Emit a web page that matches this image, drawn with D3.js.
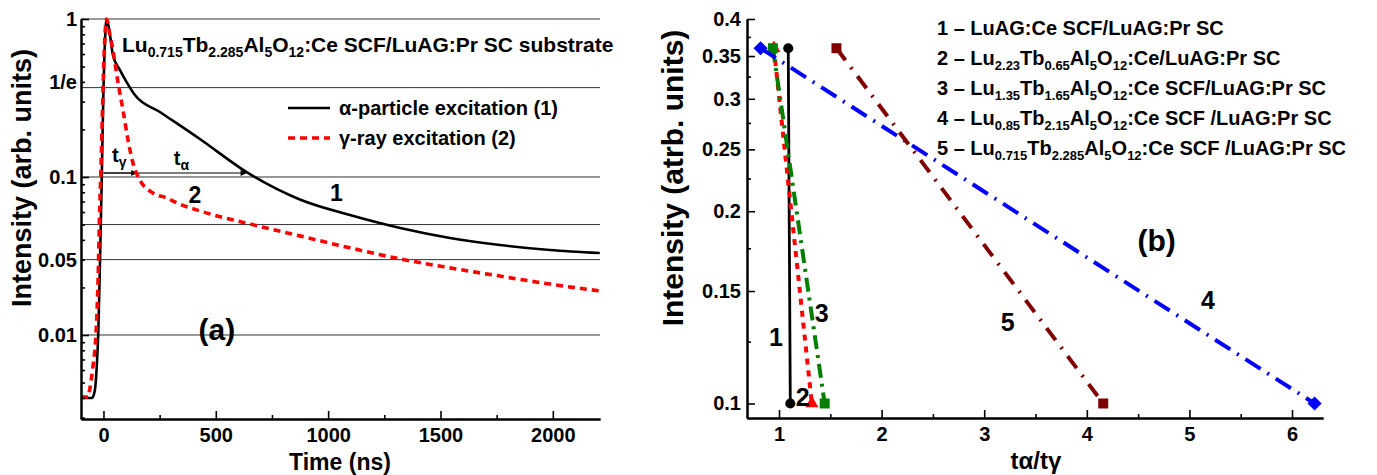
<!DOCTYPE html>
<html><head><meta charset="utf-8">
<script src="https://cdn.jsdelivr.net/npm/d3@7"></script>
<style>
body{margin:0;background:#fff}
svg text{font-family:"Liberation Sans",Arial,Helvetica,sans-serif;font-weight:bold;fill:#000}
</style>
</head><body>
<svg id="c" width="1377" height="475"></svg>
<script>
// ================= DATA =================
// Panel (a): decay curves
const alphaTime = [-100,-51,-38,-30,-23,-16,-8,-1,7,14,29,42,73,105,140,251,429,639,874,1097,1321,1542,1764,1987,2209];
const alphaIntensity = [0.00399,0.00399,0.00449,0.00629,0.0104,0.0269,0.0916,0.307,0.736,1,0.792,0.592,0.476,0.394,0.330,0.258,0.174,0.107,0.0720,0.0574,0.0475,0.0411,0.0371,0.0345,0.0330];
const gammaTime = [-100,-69,-60,-47,-33,-24,-18,-11,-7,2,14,29,42,65,87,109,131,162,220,283,327,429,652,874,1097,1321,1542,1764,1987,2209];
const gammaIntensity = [0.00405,0.00405,0.00464,0.00629,0.0104,0.0223,0.0535,0.116,0.19,0.55,1,0.792,0.637,0.394,0.265,0.172,0.123,0.0957,0.0792,0.0736,0.0685,0.061,0.0504,0.0424,0.0356,0.0303,0.0266,0.0236,0.021,0.019];
const xTicksA = [0,500,1000,1500,2000];
const xMinorA = [250,750,1250,1750];
const yMajorA = [1,0.1,0.01];
const yMinorA = [0.003,0.004,0.005,0.006,0.007,0.008,0.009,0.02,0.03,0.04,0.05,0.06,0.07,0.08,0.09,0.2,0.3,0.4,0.5,0.6,0.7,0.8,0.9];
const yLabelValuesA = [1,0.4,0.1,0.03,0.01];
const yLabelTextsA = ["1","1/e","0.1","0.05","0.01"];
const gridValuesA = [1/Math.E,0.1,0.05,0.03,0.01];
const arrowLevel = 0.106;
const tGammaEnd = 150;
const tAlphaEnd = 637;
const seriesNamesA = ["α-particle excitation (1)","γ-ray excitation (2)"];

// Panel (b): tα/tγ ratios
const ratioIntensity = [0.36, 0.1];
const ratioStart = [1.09, 0.95, 0.94, 0.82, 1.56];
const ratioEnd   = [1.11, 1.32, 1.445, 6.22, 4.16];
const legendB = [
  "1 – LuAG:Ce SCF/LuAG:Pr SC",
  "2 – Lu_{2.23}Tb_{0.65}Al_{5}O_{12}:Ce/LuAG:Pr SC",
  "3 – Lu_{1.35}Tb_{1.65}Al_{5}O_{12}:Ce SCF/LuAG:Pr SC",
  "4 – Lu_{0.85}Tb_{2.15}Al_{5}O_{12}:Ce SCF /LuAG:Pr SC",
  "5 – Lu_{0.715}Tb_{2.285}Al_{5}O_{12}:Ce SCF /LuAG:Pr SC"
];
const xTicksB = [1,2,3,4,5,6];
const xMinorB = [1.5,2.5,3.5,4.5,5.5];
const yTicksB = [0.1,0.15,0.2,0.25,0.3,0.35,0.4];
const yMinorB = [0.125,0.175,0.225,0.275,0.325,0.375];
const labelsB = ["1","2","3","4","5"];
const labelBx = [0.97,1.23,1.416,5.18,3.23];
const labelBy = [0.127,0.1024,0.1386,0.145,0.134];

// ================= STYLE =================
const colorsB = ["#000000","#ff0000","#008000","#0000ff","#800000"];
const dashB = [null,"6,6","14,6,3,6","18,8,2,8","15,9,2,9"];
const widthB = [2.8,4,4,4,4];
const symB = [d3.symbolCircle,d3.symbolTriangle,d3.symbolSquare,d3.symbolSquare,d3.symbolSquare];
const symSize = [80,75,100,100,100];
const symRot = [0,0,0,45,0];

const svg = d3.select("#c");

function rich(sel, str, size, subSize){
  const parts = str.split(/(_\{[^}]*\})/).filter(s=>s.length);
  let shifted = false;
  parts.forEach(p=>{
    if(p.startsWith("_{")){
      sel.append("tspan").attr("font-size",subSize).attr("dy", shifted?0:5).text(p.slice(2,-1));
      shifted = true;
    } else {
      sel.append("tspan").attr("font-size",size).attr("dy", shifted?-5:0).text(p);
      shifted = false;
    }
  });
}

// ================= PANEL A =================
const xA = d3.scaleLinear().domain([-100,2210]).range([81,600]);
const yA = d3.scaleLog().domain([0.00294,1]).range([419,19]);
const gA = svg.append("g");

gA.append("line").attr("x1",xA(-100)).attr("x2",xA(2210)).attr("y1",yA(1)).attr("y2",yA(1))
  .attr("stroke","#9a9a9a").attr("stroke-width",2);
gA.selectAll("line.grid").data(gridValuesA).enter().append("line").attr("class","grid")
  .attr("x1",xA(-100)).attr("x2",xA(2210)).attr("y1",d=>yA(d)).attr("y2",d=>yA(d))
  .attr("stroke","#333").attr("stroke-width",1);

const defs = svg.append("defs");
defs.append("marker").attr("id","arr").attr("viewBox","0 0 10 10").attr("refX",10).attr("refY",5)
  .attr("markerWidth",9).attr("markerHeight",6).attr("markerUnits","userSpaceOnUse").attr("orient","auto")
  .append("path").attr("d","M0,0 L10,5 L0,10 z").attr("fill","#000");
[tAlphaEnd,tGammaEnd].forEach(t=>{
  gA.append("line").attr("x1",xA(0)).attr("x2",xA(t)).attr("y1",yA(arrowLevel)).attr("y2",yA(arrowLevel))
    .attr("stroke","#000").attr("stroke-width",1).attr("marker-end","url(#arr)");
});

const lineA = d3.line().x(d=>xA(d[0])).y(d=>yA(d[1])).curve(d3.curveMonotoneX);
gA.append("path").datum(alphaTime.map((t,i)=>[t,alphaIntensity[i]]))
  .attr("d",lineA).attr("fill","none").attr("stroke","#000").attr("stroke-width",2.6);
gA.append("path").datum(gammaTime.map((t,i)=>[t,gammaIntensity[i]]))
  .attr("d",lineA).attr("fill","none").attr("stroke","#ff0000").attr("stroke-width",3.6).attr("stroke-dasharray","7,5");

gA.append("g").attr("transform","translate(0,419)")
  .call(d3.axisBottom(xA).tickValues(xTicksA).tickSizeInner(-8).tickSizeOuter(0).tickPadding(9).tickFormat(d3.format("d")));
gA.append("g").attr("transform","translate(0,419)").call(d3.axisBottom(xA).tickValues(xMinorA).tickSizeInner(-4).tickSizeOuter(0).tickFormat(""));
gA.append("g").attr("transform","translate(81,0)")
  .call(d3.axisLeft(yA).tickValues(yMajorA).tickSizeInner(-8).tickSizeOuter(0).tickFormat(""));
gA.append("g").attr("transform","translate(81,0)")
  .call(d3.axisLeft(yA).tickValues(yMinorA).tickSizeInner(-4).tickSizeOuter(0).tickFormat(""));
gA.selectAll("text.ylab").data(yLabelValuesA).enter().append("text").attr("class","ylab")
  .attr("x",77).attr("y",d=>yA(d)).attr("dy","0.35em").attr("text-anchor","end").attr("font-size",20)
  .text((d,i)=>yLabelTextsA[i]);

gA.append("text").attr("x",340).attr("y",470).attr("text-anchor","middle").attr("font-size",23).text("Time (ns)");
gA.append("text").attr("transform","translate(31,178) rotate(-90)").attr("text-anchor","middle").attr("font-size",27).text("Intensity (arb. units)");
rich(gA.append("text").attr("x",122).attr("y",52), "Lu_{0.715}Tb_{2.285}Al_{5}O_{12}:Ce SCF/LuAG:Pr SC substrate", 21, 14);

const legYA = [108,138];
seriesNamesA.forEach((name,i)=>{
  gA.append("line").attr("x1",288).attr("x2",330).attr("y1",legYA[i]).attr("y2",legYA[i])
    .attr("stroke",i?"#ff0000":"#000").attr("stroke-width",i?3.6:2.6).attr("stroke-dasharray",i?"7,5":null);
  gA.append("text").attr("x",339).attr("y",legYA[i]+7).attr("font-size",20).text(name);
});

const tg = gA.append("text").attr("x",xA(38)).attr("y",yA(0.124)).attr("font-size",20);
tg.append("tspan").text("t"); tg.append("tspan").attr("font-size",14).attr("dy",5).text("γ");
const ta = gA.append("text").attr("x",xA(313)).attr("y",yA(0.119)).attr("font-size",20);
ta.append("tspan").text("t"); ta.append("tspan").attr("font-size",14).attr("dy",5).text("α");
gA.append("text").attr("x",xA(407)).attr("y",yA(0.0769)).attr("dy","0.35em").attr("text-anchor","middle").attr("font-size",23).text("2");
gA.append("text").attr("x",xA(1037)).attr("y",yA(0.0792)).attr("dy","0.35em").attr("text-anchor","middle").attr("font-size",23).text("1");
gA.append("text").attr("x",xA(505)).attr("y",yA(0.0108)).attr("dy","0.35em").attr("text-anchor","middle").attr("font-size",30).text("(a)");

// ================= PANEL B =================
const xB = d3.scaleLinear().domain([0.688,6.302]).range([747,1323]);
const yB = d3.scaleLog().domain([0.0949,0.4]).range([418,19]);
const gB = svg.append("g");

ratioStart.forEach((s,i)=>{
  const pts = [[s,ratioIntensity[0]],[ratioEnd[i],ratioIntensity[1]]];
  gB.append("path").datum(pts).attr("d",d3.line().x(d=>xB(d[0])).y(d=>yB(d[1])))
    .attr("fill","none").attr("stroke",colorsB[i]).attr("stroke-width",widthB[i])
    .attr("stroke-dasharray",dashB[i]);
  gB.selectAll(null).data(pts).enter().append("path")
    .attr("d",d3.symbol().type(symB[i]).size(symSize[i]))
    .attr("transform",d=>`translate(${xB(d[0])},${yB(d[1])}) rotate(${symRot[i]})`)
    .attr("fill",colorsB[i]);
});

gB.append("g").attr("transform","translate(0,418)")
  .call(d3.axisBottom(xB).tickValues(xTicksB).tickSizeInner(-8).tickSizeOuter(0).tickPadding(9).tickFormat(d3.format("d")));
gB.append("g").attr("transform","translate(0,418)")
  .call(d3.axisBottom(xB).tickValues(xMinorB).tickSizeInner(-4).tickSizeOuter(0).tickFormat(""));
gB.append("g").attr("transform","translate(747,0)")
  .call(d3.axisLeft(yB).tickValues(yTicksB).tickSizeInner(-8).tickSizeOuter(0).tickPadding(6).tickFormat(d=>String(d)));
gB.append("g").attr("transform","translate(747,0)")
  .call(d3.axisLeft(yB).tickValues(yMinorB).tickSizeInner(-4).tickSizeOuter(0).tickFormat(""));

gB.append("text").attr("x",1036).attr("y",469).attr("text-anchor","middle").attr("font-size",24).text("tα/tγ");
gB.append("text").attr("transform","translate(683,178) rotate(-90)").attr("text-anchor","middle").attr("font-size",30).text("Intensity (atrb. units)");

legendB.forEach((str,i)=>{
  rich(gB.append("text").attr("x",937).attr("y",35+30*i), str, 20, 13);
});
labelsB.forEach((l,i)=>{
  gB.append("text").attr("x",xB(labelBx[i])).attr("y",yB(labelBy[i])).attr("dy","0.35em")
    .attr("text-anchor","middle").attr("font-size",25).text(l);
});
gB.append("text").attr("x",xB(4.68)).attr("y",yB(0.18)).attr("dy","0.35em").attr("text-anchor","middle").attr("font-size",30).text("(b)");

svg.selectAll(".domain").attr("stroke","#000").attr("stroke-width",2);
svg.selectAll(".tick line").attr("stroke","#000").attr("stroke-width",1.6);
svg.selectAll(".tick text").attr("font-size",20).attr("font-family",'"Liberation Sans",Arial,sans-serif').attr("font-weight","bold").attr("fill","#000");
</script>
</body></html>
